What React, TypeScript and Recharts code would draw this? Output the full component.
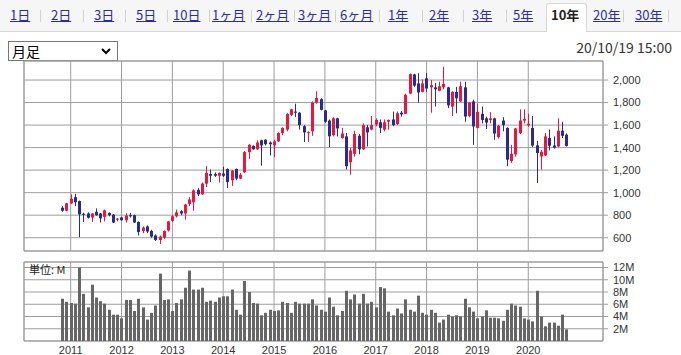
import React from 'react';
import { ComposedChart, Bar, XAxis, YAxis, CartesianGrid, ReferenceArea } from 'recharts';

// ---- data (monthly candles, Nov 2010 – Oct 2020) ----
const months = [
  '2010/11', '2010/12',
  '2011/01', '2011/02', '2011/03', '2011/04', '2011/05', '2011/06', '2011/07', '2011/08', '2011/09', '2011/10', '2011/11', '2011/12',
  '2012/01', '2012/02', '2012/03', '2012/04', '2012/05', '2012/06', '2012/07', '2012/08', '2012/09', '2012/10', '2012/11', '2012/12',
  '2013/01', '2013/02', '2013/03', '2013/04', '2013/05', '2013/06', '2013/07', '2013/08', '2013/09', '2013/10', '2013/11', '2013/12',
  '2014/01', '2014/02', '2014/03', '2014/04', '2014/05', '2014/06', '2014/07', '2014/08', '2014/09', '2014/10', '2014/11', '2014/12',
  '2015/01', '2015/02', '2015/03', '2015/04', '2015/05', '2015/06', '2015/07', '2015/08', '2015/09', '2015/10', '2015/11', '2015/12',
  '2016/01', '2016/02', '2016/03', '2016/04', '2016/05', '2016/06', '2016/07', '2016/08', '2016/09', '2016/10', '2016/11', '2016/12',
  '2017/01', '2017/02', '2017/03', '2017/04', '2017/05', '2017/06', '2017/07', '2017/08', '2017/09', '2017/10', '2017/11', '2017/12',
  '2018/01', '2018/02', '2018/03', '2018/04', '2018/05', '2018/06', '2018/07', '2018/08', '2018/09', '2018/10', '2018/11', '2018/12',
  '2019/01', '2019/02', '2019/03', '2019/04', '2019/05', '2019/06', '2019/07', '2019/08', '2019/09', '2019/10', '2019/11', '2019/12',
  '2020/01', '2020/02', '2020/03', '2020/04', '2020/05', '2020/06', '2020/07', '2020/08', '2020/09', '2020/10',
];

const openPrices = [
  866, 840,
  905, 960, 925, 812, 815, 780, 830, 815, 785, 820, 805, 760,
  780, 755, 800, 800, 740, 660, 700, 660, 620, 580, 600, 665,
  750, 790, 835, 815, 900, 915, 1025, 985, 1080, 1165, 1165, 1150,
  1170, 1210, 1110, 1210, 1125, 1180, 1360, 1415, 1385, 1465, 1470, 1445,
  1420, 1455, 1530, 1560, 1690, 1720, 1710, 1590, 1530, 1545, 1800, 1830,
  1730, 1640, 1510, 1660, 1485, 1500, 1270, 1345, 1505, 1385, 1580, 1560,
  1605, 1625, 1560, 1630, 1650, 1610, 1710, 1700, 1880, 2050, 1970, 1895,
  2015, 1935, 1935, 1905, 1935, 1935, 1765, 1895, 1810, 1935, 1680, 1810,
  1575, 1700, 1660, 1645, 1660, 1493, 1640, 1575, 1280, 1340, 1528, 1640,
  1598, 1575, 1420, 1322, 1330, 1485, 1418, 1410, 1550, 1515,
];

const highPrices = [
  880, 910,
  985, 990, 930, 822, 825, 820, 860, 820, 850, 825, 810, 775,
  785, 818, 820, 805, 745, 700, 710, 670, 630, 620, 665, 750,
  800, 850, 845, 900, 960, 1030, 1040, 1090, 1236, 1205, 1180, 1180,
  1230, 1215, 1200, 1215, 1175, 1370, 1430, 1420, 1465, 1470, 1475, 1455,
  1470, 1535, 1580, 1705, 1745, 1790, 1715, 1600, 1545, 1810, 1900, 1840,
  1735, 1650, 1670, 1665, 1575, 1530, 1400, 1550, 1520, 1615, 1600, 1680,
  1660, 1650, 1650, 1650, 1720, 1720, 1725, 1880, 2058, 2055, 2060, 2005,
  2060, 2000, 1975, 1985, 2118, 1940, 1900, 1940, 1985, 1985, 1805, 1825,
  1790, 1765, 1675, 1715, 1665, 1600, 1670, 1580, 1425, 1575, 1740, 1740,
  1700, 1680, 1460, 1380, 1530, 1560, 1500, 1660, 1630, 1525,
];

const lowPrices = [
  830, 835,
  900, 880, 605, 740, 770, 740, 795, 735, 745, 790, 730, 745,
  750, 735, 780, 730, 620, 640, 640, 600, 570, 545, 590, 655,
  740, 780, 800, 760, 880, 840, 970, 980, 1050, 1095, 1140, 1090,
  1140, 1040, 1060, 1110, 1120, 1175, 1300, 1380, 1380, 1240, 1420, 1330,
  1315, 1450, 1510, 1545, 1680, 1670, 1560, 1450, 1450, 1505, 1790, 1730,
  1620, 1405, 1500, 1500, 1480, 1205, 1160, 1320, 1340, 1380, 1410, 1555,
  1590, 1530, 1545, 1560, 1590, 1600, 1675, 1700, 1875, 1940, 1800, 1890,
  1895, 1710, 1765, 1900, 1918, 1750, 1680, 1705, 1805, 1630, 1670, 1425,
  1570, 1615, 1565, 1615, 1470, 1480, 1545, 1235, 1265, 1320, 1520, 1615,
  1585, 1405, 1086, 1205, 1325, 1375, 1390, 1405, 1485, 1410,
];

const closePrices = [
  840, 905,
  945, 915, 807, 805, 778, 815, 800, 772, 843, 800, 735, 770,
  755, 797, 790, 735, 650, 690, 655, 610, 580, 610, 660, 745,
  790, 825, 815, 895, 940, 1020, 985, 1080, 1175, 1150, 1150, 1175,
  1150, 1095, 1195, 1125, 1160, 1360, 1425, 1385, 1445, 1420, 1430, 1430,
  1455, 1530, 1575, 1700, 1740, 1710, 1600, 1535, 1537, 1800, 1840, 1735,
  1630, 1500, 1660, 1570, 1525, 1235, 1375, 1520, 1385, 1600, 1535, 1600,
  1645, 1575, 1625, 1645, 1600, 1705, 1695, 1868, 2053, 1950, 1890, 1970,
  1925, 1955, 1918, 1945, 1965, 1775, 1895, 1838, 1945, 1676, 1800, 1588,
  1717, 1645, 1622, 1660, 1525, 1594, 1600, 1293, 1345, 1570, 1640, 1655,
  1612, 1418, 1352, 1363, 1500, 1417, 1400, 1550, 1505, 1415,
];

// volume in millions of shares
const volumes = [
  6.9, 6.4,
  6.2, 6.1, 12.0, 7.7, 5.5, 9.2, 7.1, 6.5, 6.1, 5.1, 4.3, 4.3,
  3.7, 6.7, 6.7, 4.9, 6.9, 5.5, 3.5, 4.6, 5.8, 11.0, 6.7, 6.8,
  4.9, 6.2, 6.8, 8.7, 11.5, 8.4, 8.4, 8.7, 6.4, 6.6, 6.4, 7.1,
  7.3, 7.3, 8.4, 5.1, 4.3, 9.8, 8.0, 6.2, 6.1, 4.2, 4.6, 5.1,
  4.9, 5.0, 6.4, 6.2, 4.6, 6.4, 6.1, 6.1, 6.1, 6.8, 5.8, 5.1,
  4.8, 7.1, 5.6, 4.2, 4.9, 8.2, 6.8, 7.6, 6.1, 7.7, 6.1, 6.4,
  5.5, 8.8, 8.6, 4.8, 4.2, 5.3, 4.5, 6.8, 5.1, 4.8, 7.4, 4.6,
  4.3, 5.1, 4.6, 3.0, 3.5, 4.3, 4.0, 4.2, 4.0, 6.9, 5.5, 4.8,
  3.7, 4.0, 5.0, 3.8, 3.8, 3.7, 3.3, 5.1, 6.1, 5.8, 5.6, 3.7,
  3.5, 3.2, 8.2, 4.0, 2.4, 3.0, 3.0, 2.5, 4.3, 1.9,
];

const priceTicks = [600, 800, 1000, 1200, 1400, 1600, 1800, 2000];
const volumeTicks = [2, 4, 6, 8, 10, 12];

const tabLabels = ['1日', '2日', '3日', '5日', '10日', '1ヶ月', '2ヶ月', '3ヶ月', '6ヶ月', '1年', '2年', '3年', '5年', '10年', '20年', '30年'];
const selectedTab = '10年';
const periodOption = '月足';
const timestamp = '20/10/19 15:00';
const unitLabel = '単位: M';

// ---- layout / style ----
const tabLeft = [10, 51, 94, 136, 173, 212, 256, 298, 340, 388, 429, 472, 513, 551, 593, 635];
const sepLeft = [40, 83, 125, 167, 209, 251, 294, 335, 379, 422, 463, 506, 623, 668];
const X_DOMAIN: [number, number] = [-9.02, 127.64];
const P_DOMAIN: [number, number] = [482, 2169];
const V_DOMAIN: [number, number] = [0, 12.9];
const RED = '#e8173f';
const BLUE = '#2b2b8e';
const GRID = '#9d9d9d';
const FONT_JP = '"Noto Sans CJK JP", "Noto Sans", sans-serif';
const FONT_AX = '"Liberation Sans", Arial, sans-serif';

const data = months.map((m, i) => ({
  i,
  m,
  open: openPrices[i],
  high: highPrices[i],
  low: lowPrices[i],
  close: closePrices[i],
  vol: volumes[i],
}));

const yearTicks = data.filter((d) => d.m.endsWith('/01')).map((d) => d.i);
const yearOf = (idx: number) => {
  const d = data.find((r) => r.i === idx);
  return d ? d.m.slice(0, 4) : '';
};

const Candle = (props: any) => {
  const { x, y, width, height, payload } = props;
  if (!payload || height == null) return null;
  const { open, close, high, low } = payload;
  const up = close >= open;
  const color = up ? RED : BLUE;
  const span = high - low || 1;
  const ratio = height / span;
  const yO = y + (high - open) * ratio;
  const yC = y + (high - close) * ratio;
  const top = Math.min(yO, yC);
  const h = Math.max(1, Math.abs(yO - yC));
  const bx = Math.round(x + width / 2 - 1.5);
  const cx = bx + 1.5;
  return (
    <g>
      <line x1={cx} x2={cx} y1={y} y2={y + height} stroke={color} strokeWidth={1} />
      <rect x={bx} y={top} width={3} height={h} fill={color} />
    </g>
  );
};

const VolBar = (props: any) => {
  const { x, y, width, height } = props;
  if (height == null || height <= 0) return null;
  const bx = Math.round(x + width / 2 - 1.5);
  return <rect x={bx} y={y} width={3} height={height} fill="#666666" />;
};

const tickStyle = { fill: '#333', fontSize: 11, fontFamily: FONT_AX };

export default function App() {
  return (
    <div
      style={{
        position: 'absolute',
        left: 0,
        top: 0,
        width: 681,
        height: 355,
        background: '#fff',
        overflow: 'hidden',
        fontFamily: FONT_JP,
      }}
    >
      {/* tab bar */}
      <div
        style={{
          position: 'absolute',
          left: 0,
          top: 0,
          width: 681,
          height: 31,
          background: '#f6f6f6',
          borderBottom: '1px solid #d6d6d6',
        }}
      />
      <div
        style={{
          position: 'absolute',
          left: 546,
          top: 3,
          width: 39,
          height: 28,
          background: '#fff',
          border: '1px solid #d6d6d6',
          borderBottom: 'none',
          borderRadius: '3px 3px 0 0',
        }}
      />
      {tabLabels.map((t, k) => (
        <span
          key={t}
          style={{
            position: 'absolute',
            left: tabLeft[k],
            top: 7,
            fontSize: 13,
            lineHeight: '16px',
            whiteSpace: 'nowrap',
            color: t === selectedTab ? '#222' : '#2b2ba6',
            fontWeight: t === selectedTab ? 700 : 400,
            textDecoration: t === selectedTab ? 'none' : 'underline',
          }}
        >
          {t}
        </span>
      ))}
      {sepLeft.map((x) => (
        <div
          key={x}
          style={{ position: 'absolute', left: x, top: 10, width: 1, height: 12, background: '#d0d0d0' }}
        />
      ))}

      {/* period select (drawn as a box so the text is not clipped) */}
      <div
        role="listbox"
        aria-label="period"
        style={{
          position: 'absolute',
          left: 8,
          top: 41,
          width: 110,
          height: 20,
          boxSizing: 'border-box',
          border: '1px solid #767676',
          background: '#fff',
        }}
      >
        <span
          style={{
            position: 'absolute',
            left: 3,
            top: 0,
            fontSize: 14,
            lineHeight: '18px',
            color: '#000',
            whiteSpace: 'nowrap',
          }}
        >
          {periodOption}
        </span>
        <svg
          width={10}
          height={7}
          style={{ position: 'absolute', left: 92, top: 6 }}
        >
          <path d="M1,1 L5,5 L9,1" fill="none" stroke="#000" strokeWidth={2} />
        </svg>
      </div>

      <div
        style={{
          position: 'absolute',
          right: 9,
          top: 38,
          fontSize: 14,
          lineHeight: '18px',
          color: '#333',
          whiteSpace: 'nowrap',
        }}
      >
        {timestamp}
      </div>

      {/* price chart */}
      <div style={{ position: 'absolute', left: 0, top: 0 }}>
        <ComposedChart width={681} height={255} data={data} margin={{ top: 61, right: 18, bottom: 4, left: 24 }}>
          <CartesianGrid stroke={GRID} />
          <XAxis type="number" dataKey="i" domain={X_DOMAIN} ticks={yearTicks} allowDataOverflow hide />
          <YAxis
            orientation="right"
            domain={P_DOMAIN}
            ticks={priceTicks}
            allowDataOverflow
            interval={0}
            width={60}
            axisLine={false}
            tickLine={{ stroke: GRID }}
            tickSize={5}
            tickMargin={5}
            tick={tickStyle}
            tickFormatter={(v: number) => v.toLocaleString('en-US')}
          />
          <ReferenceArea
            x1={X_DOMAIN[0]}
            x2={X_DOMAIN[1]}
            y1={P_DOMAIN[0]}
            y2={P_DOMAIN[1]}
            fill="none"
            stroke={GRID}
            ifOverflow="visible"
          />
          <Bar
            dataKey={(d: any) => [d.low, d.high]}
            barSize={3}
            shape={(p: any) => <Candle {...p} />}
            isAnimationActive={false}
          />
        </ComposedChart>
      </div>

      {/* volume chart */}
      <div style={{ position: 'absolute', left: 0, top: 255 }}>
        <ComposedChart width={681} height={100} data={data} margin={{ top: 7, right: 18, bottom: 0, left: 24 }}>
          <CartesianGrid stroke={GRID} />
          <XAxis
            type="number"
            dataKey="i"
            domain={X_DOMAIN}
            ticks={yearTicks}
            allowDataOverflow
            interval={0}
            height={14}
            axisLine={false}
            tickLine={false}
            tickSize={0}
            tickMargin={5}
            tick={tickStyle}
            tickFormatter={(v: number) => yearOf(v)}
          />
          <YAxis
            orientation="right"
            domain={V_DOMAIN}
            ticks={volumeTicks}
            allowDataOverflow
            interval={0}
            width={60}
            axisLine={false}
            tickLine={{ stroke: GRID }}
            tickSize={5}
            tickMargin={5}
            tick={tickStyle}
            tickFormatter={(v: number) => `${v}M`}
          />
          <ReferenceArea
            x1={X_DOMAIN[0]}
            x2={X_DOMAIN[1]}
            y1={V_DOMAIN[0]}
            y2={V_DOMAIN[1]}
            fill="none"
            stroke={GRID}
            ifOverflow="visible"
          />
          <Bar dataKey="vol" barSize={3} shape={(p: any) => <VolBar {...p} />} isAnimationActive={false} />
        </ComposedChart>
      </div>

      <span
        style={{
          position: 'absolute',
          left: 29,
          top: 263,
          fontSize: 11,
          lineHeight: '13px',
          color: '#222',
          whiteSpace: 'nowrap',
        }}
      >
        {unitLabel}
      </span>
    </div>
  );
}
